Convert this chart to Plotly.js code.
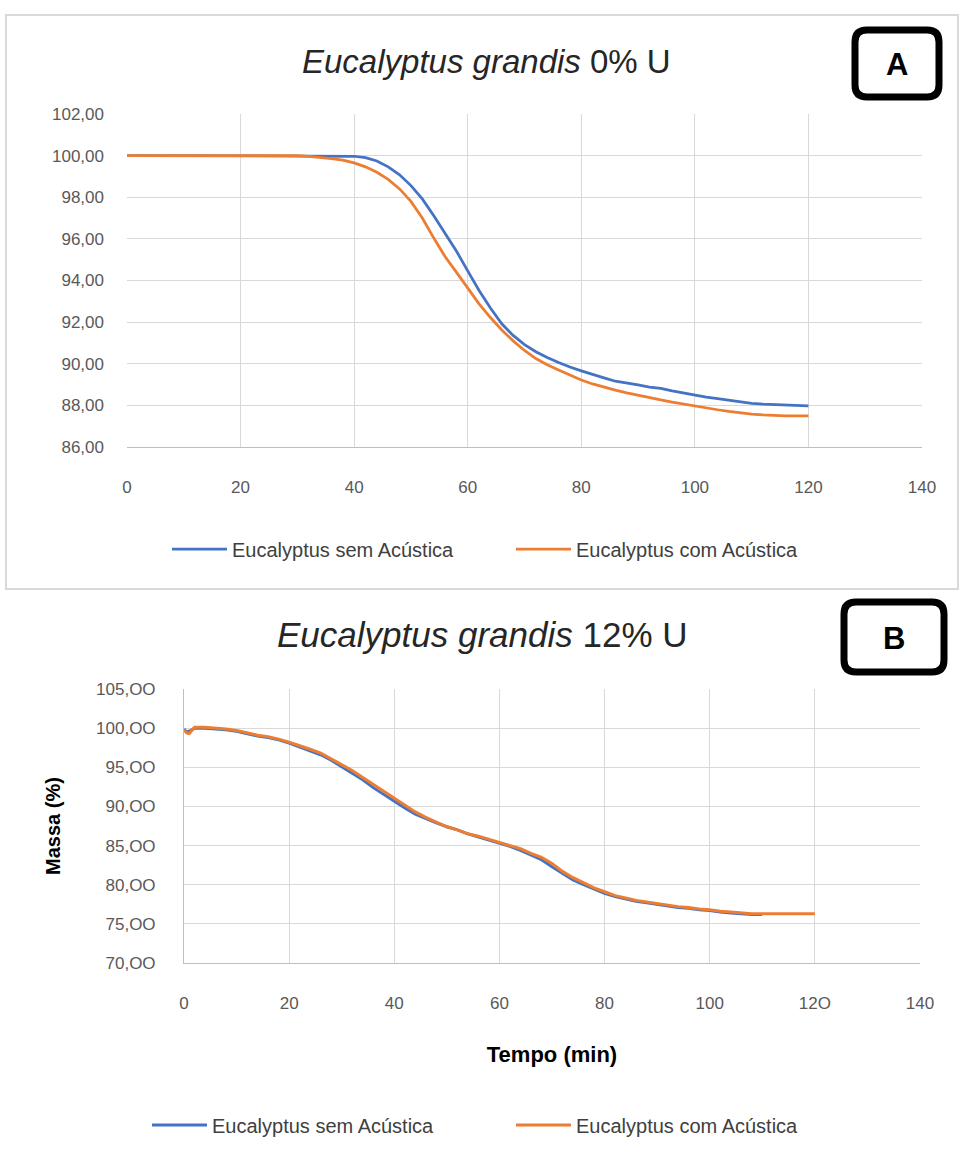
<!DOCTYPE html>
<html>
<head>
<meta charset="utf-8">
<script src="https://cdn.plot.ly/plotly-3.0.1.min.js"></script>
<style>html,body{margin:0;padding:0;background:#fff;}#chart{width:962px;height:1157px;}</style>
</head>
<body>
<div id="chart"></div>
<script>
// ---------- Data ----------
const seriesNames = ["Eucalyptus sem Acústica", "Eucalyptus com Acústica"];

// Chart A: Eucalyptus grandis 0% U
const tA = [0,2,4,6,8,10,12,14,16,18,20,22,24,26,28,30,32,34,36,38,40,42,44,46,48,50,52,54,56,58,60,62,64,66,68,70,72,74,76,78,80,82,84,86,88,90,92,94,96,98,100,102,104,106,108,110,112,114,116,118,120];
const semA = [100.00,100.00,100.00,100.00,100.00,100.00,100.00,100.00,100.00,100.00,100.00,100.00,100.00,100.00,100.00,100.00,
  100.00,100.00,100.00,99.99,99.97,99.90,99.74,99.46,99.08,98.56,97.92,97.12,96.30,95.42,94.46,93.52,92.68,91.92,91.36,90.92,90.58,90.30,90.06,89.84,89.66,89.48,89.32,89.16,89.08,88.98,88.88,88.82,88.70,88.60,88.48,88.40,88.32,88.24,88.16,88.10,88.06,88.04,88.00,87.99,87.98];
const comA = [100.00,100.00,100.00,100.00,100.00,100.00,100.00,100.00,100.00,100.00,100.00,100.00,100.00,100.00,100.00,100.00,
  99.96,99.92,99.86,99.78,99.65,99.46,99.20,98.86,98.40,97.80,97.00,96.05,95.15,94.40,93.65,92.88,92.22,91.62,91.10,90.64,90.25,89.95,89.70,89.45,89.22,89.03,88.87,88.73,88.60,88.48,88.37,88.26,88.16,88.06,87.97,87.88,87.79,87.71,87.64,87.58,87.54,87.51,87.50,87.49,87.49];

// Chart B: Eucalyptus grandis 12% U
const tBsem = [0,0.5,1,2,4,6,8,10,12,14,16,18,20,22,24,26,28,30,32,34,36,38,40,42,44,46,48,50,52,54,56,58,60,62,64,66,68,70,72,74,76,78,80,82,84,86,88,90,92,94,96,98,100,102,104,106,108,110];
const semB = [99.9,99.5,99.6,100.0,100.0,99.9,99.8,99.6,99.3,99.0,98.8,98.5,98.1,97.6,97.1,96.6,95.9,95.1,94.3,93.4,92.4,91.5,90.6,89.8,89.0,88.4,87.9,87.4,87.0,86.5,86.1,85.7,85.3,84.9,84.4,83.8,83.2,82.3,81.4,80.6,80.0,79.4,78.9,78.5,78.2,77.9,77.7,77.5,77.3,77.1,77.0,76.8,76.7,76.5,76.4,76.3,76.2,76.2];
const tBcom = [0,0.5,1,2,4,6,8,10,12,14,16,18,20,22,24,26,28,30,32,34,36,38,40,42,44,46,48,50,52,54,56,58,60,62,64,66,68,70,72,74,76,78,80,82,84,86,88,90,92,94,96,98,100,102,104,106,108,110,112,114,116,118,120];
const comB = [99.8,99.4,99.3,100.1,100.1,100.0,99.9,99.7,99.4,99.1,98.9,98.6,98.2,97.8,97.3,96.8,96.1,95.4,94.6,93.7,92.8,91.9,91.0,90.1,89.3,88.6,88.0,87.4,87.0,86.5,86.2,85.8,85.4,85.0,84.6,84.0,83.5,82.7,81.7,80.9,80.2,79.6,79.1,78.6,78.3,78.0,77.8,77.6,77.4,77.2,77.1,76.9,76.8,76.6,76.5,76.4,76.3,76.3,76.3,76.3,76.3,76.3,76.3];

// Tick labels
const xTickVals = [0,20,40,60,80,100,120,140];
const xTickTextA = ["0","20","40","60","80","100","120","140"];
const xTickTextB = ["0","20","40","60","80","100","12O","140"];
const yTickValsA = [86,88,90,92,94,96,98,100,102];
const yTickTextA = ["86,00","88,00","90,00","92,00","94,00","96,00","98,00","100,00","102,00"];
const yTickValsB = [70,75,80,85,90,95,100,105];
const yTickTextB = ["70,OO","75,OO","80,OO","85,OO","90,OO","95,OO","100,OO","105,OO"];

// ---------- Layout helpers ----------
const W = 962, H = 1157;
const px = v => v / W;
const py = v => 1 - v / H;
const FONT = "Liberation Sans Narrow, Liberation Sans, Arial, sans-serif";
const BLUE = "#4472C4", ORANGE = "#ED7D31";
const GRID = "#d9d9d9";
const TICKC = "#595959";

function roundRectPath(x0, y0, x1, y1, r) {
  const P = (x, y) => px(x).toFixed(5) + "," + py(y).toFixed(5);
  return "M" + P(x0 + r, y0) + " L" + P(x1 - r, y0) + " Q" + P(x1, y0) + " " + P(x1, y0 + r) +
    " L" + P(x1, y1 - r) + " Q" + P(x1, y1) + " " + P(x1 - r, y1) +
    " L" + P(x0 + r, y1) + " Q" + P(x0, y1) + " " + P(x0, y1 - r) +
    " L" + P(x0, y0 + r) + " Q" + P(x0, y0) + " " + P(x0 + r, y0) + " Z";
}

const traces = [
  {x: tA, y: semA, name: seriesNames[0], type: "scatter", mode: "lines", line: {color: BLUE, width: 2.75}, xaxis: "x", yaxis: "y", legend: "legend"},
  {x: tA, y: comA, name: seriesNames[1], type: "scatter", mode: "lines", line: {color: ORANGE, width: 2.75}, xaxis: "x", yaxis: "y", legend: "legend"},
  {x: tBsem, y: semB, name: seriesNames[0], type: "scatter", mode: "lines", line: {color: BLUE, width: 3}, xaxis: "x2", yaxis: "y2", legend: "legend2"},
  {x: tBcom, y: comB, name: seriesNames[1], type: "scatter", mode: "lines", line: {color: ORANGE, width: 3}, xaxis: "x2", yaxis: "y2", legend: "legend2"}
];

const axisCommon = {
  showgrid: true, gridcolor: GRID, gridwidth: 1, zeroline: false,
  ticks: "", tickfont: {family: FONT, size: 17, color: TICKC}, fixedrange: true
};

const layout = {
  width: W, height: H,
  margin: {l: 0, r: 0, t: 0, b: 0},
  paper_bgcolor: "#ffffff", plot_bgcolor: "#ffffff",
  font: {family: FONT, color: "#262626"},
  showlegend: true,
  xaxis: Object.assign({}, axisCommon, {
    domain: [px(127), px(922)], range: [0, 140], anchor: "y",
    tickmode: "array", tickvals: xTickVals, ticktext: xTickTextA,
    showline: true, linecolor: "#bfbfbf", linewidth: 1, mirror: false,
    ticklabelstandoff: 25
  }),
  yaxis: Object.assign({}, axisCommon, {
    domain: [py(447), py(114)], range: [86, 102], anchor: "x",
    tickmode: "array", tickvals: yTickValsA, ticktext: yTickTextA,
    showline: false, ticklabelstandoff: 22
  }),
  xaxis2: Object.assign({}, axisCommon, {
    domain: [px(184), px(920)], range: [0, 140], anchor: "y2",
    tickmode: "array", tickvals: xTickVals, ticktext: xTickTextB,
    showline: true, linecolor: "#bfbfbf", linewidth: 1,
    ticklabelstandoff: 25,
    title: {text: "<b>Tempo (min)</b>", font: {family: FONT, size: 22, color: "#000"}, standoff: 34}
  }),
  yaxis2: Object.assign({}, axisCommon, {
    domain: [py(963), py(689)], range: [70, 105], anchor: "x2",
    tickmode: "array", tickvals: yTickValsB, ticktext: yTickTextB,
    showline: true, linecolor: "#bfbfbf", linewidth: 1,
    ticklabelstandoff: 24,
    title: {text: "<b>Massa (%)</b>", font: {family: FONT, size: 20, color: "#000"}, standoff: 30}
  }),
  legend: {
    orientation: "h", x: px(167), xanchor: "left", y: py(549), yanchor: "middle",
    font: {family: FONT, size: 20, color: "#404040"}, bgcolor: "rgba(0,0,0,0)",
    itemwidth: 55, entrywidth: 274, entrywidthmode: "pixels", tracegroupgap: 0
  },
  legend2: {
    orientation: "h", x: px(147), xanchor: "left", y: py(1125), yanchor: "middle",
    font: {family: FONT, size: 20, color: "#404040"}, bgcolor: "rgba(0,0,0,0)",
    itemwidth: 55, entrywidth: 294, entrywidthmode: "pixels", tracegroupgap: 0
  },
  shapes: [
    {type: "rect", xref: "paper", yref: "paper", x0: px(6), x1: px(958), y0: py(589), y1: py(15),
     line: {color: "#d9d9d9", width: 2}, fillcolor: "rgba(0,0,0,0)", layer: "below"},
    {type: "path", xref: "paper", yref: "paper", path: roundRectPath(855, 30, 939, 97, 12),
     line: {color: "#000", width: 7}, fillcolor: "#fff"},
    {type: "path", xref: "paper", yref: "paper", path: roundRectPath(844, 602, 944, 672, 12),
     line: {color: "#000", width: 7}, fillcolor: "#fff"}
  ],
  annotations: [
    {xref: "paper", yref: "paper", x: px(487), y: py(62), xanchor: "center", yanchor: "middle", showarrow: false,
     text: "<i>Eucalyptus grandis</i> 0% U", font: {family: FONT, size: 33, color: "#262626"}},
    {xref: "paper", yref: "paper", x: px(482), y: py(634), xanchor: "center", yanchor: "middle", showarrow: false,
     text: "<i>Eucalyptus grandis</i> 12% U", font: {family: FONT, size: 35, color: "#262626"}},
    {xref: "paper", yref: "paper", x: px(897), y: py(64), xanchor: "center", yanchor: "middle", showarrow: false,
     text: "<b>A</b>", font: {family: FONT, size: 31, color: "#000"}},
    {xref: "paper", yref: "paper", x: px(894), y: py(638), xanchor: "center", yanchor: "middle", showarrow: false,
     text: "<b>B</b>", font: {family: FONT, size: 31, color: "#000"}}
  ]
};

Plotly.newPlot("chart", traces, layout, {displayModeBar: false, staticPlot: true});
</script>
</body>
</html>
